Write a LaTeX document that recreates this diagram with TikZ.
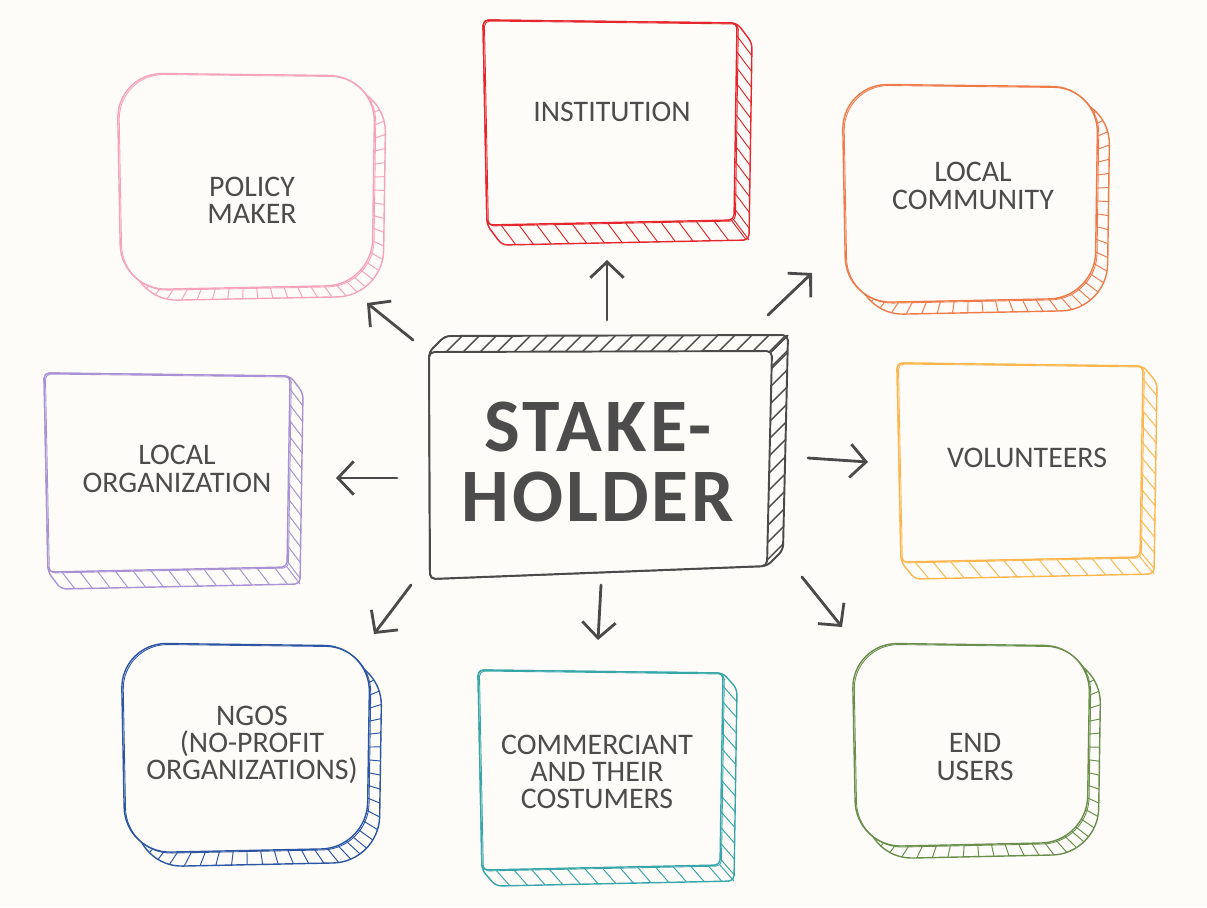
\documentclass[tikz,border=0pt]{standalone}
\usepackage{fontspec}
\setmainfont{Carlito}
\newfontfamily\corefont[LetterSpace=4]{Carlito}
\usepackage{tikz}
\usetikzlibrary{arrows.meta}

\definecolor{paper}{HTML}{FDFCF8}
\definecolor{inkgray}{HTML}{4A4A4A}
\definecolor{textgray}{HTML}{4C4C4C}
\definecolor{pinkline}{HTML}{F5A3BB}
\definecolor{redline}{HTML}{E6262D}
\definecolor{orangeline}{HTML}{EF7A4A}
\definecolor{purpleline}{HTML}{A992D3}
\definecolor{yellowline}{HTML}{FCB64E}
\definecolor{blueline}{HTML}{2C55A3}
\definecolor{tealline}{HTML}{36A6A9}
\definecolor{greenline}{HTML}{6A8F4D}

\tikzstyle{boxtext} = [align=center, text=textgray, inner sep=0pt, font=\fontsize{17}{15.5}\selectfont]
\tikzstyle{coretext} = [align=center, text=textgray, inner sep=0pt, font=\corefont\bfseries\fontsize{43}{40}\selectfont]
\tikzstyle{spoke} = [-{Straight Barb[length=9pt,width=19pt]}, line width=1.6pt, inkgray, line cap=round, line join=round]
\tikzstyle{hatch} = [line width=0.55pt]
\tikzstyle{edge} = [line width=0.8pt, line join=round]

% #1 colour, #2-#5 front face x1,y1,x2,y2, #6/#7 depth, #8 corner radius, #9 r = round, s = square
\newcommand{\sketchbox}[9]{%
  \pgfmathsetmacro\bxc{(#2+#4)/2}
  \pgfmathsetmacro\byc{(#3+#5)/2}
  \ifx r#9
    \begin{scope}
      \clip[rounded corners=#8] (#2+#6,#3+#7) -- (#4+#6,#3+3+#7) -- (#4-3+#6,#5-5+#7) -- (#2+4+#6,#5+#7) -- cycle;
      \pgfmathtruncatemacro\nb{(#4-#2)/14}
      \foreach \i in {0,...,\nb}
        \draw[hatch, #1] (\bxc,\byc) -- ({\bxc+1.3*(#2+\i*14-\bxc)},{\byc+1.3*(#5-\byc)});
      \pgfmathtruncatemacro\nr{(#5-#3)/13}
      \foreach \j in {0,...,\nr}
        \draw[hatch, #1] (\bxc,\byc) -- ({\bxc+1.3*(#4-\bxc)},{\byc+1.3*(#3+\j*13-\byc)});
    \end{scope}
    \draw[edge, #1, rounded corners=#8] (#2+#6,#3+#7) -- (#4+#6,#3+3+#7) -- (#4-3+#6,#5-5+#7) -- (#2+4+#6,#5+#7) -- cycle;
  \else
    \begin{scope}
      \clip (#2,#3) -- (#4,#3+3) -- (#4+#6,#3+3+#7) -- (#4-3+#6,#5-5+#7) -- (#2+4+#6,#5+#7) -- (#2+4,#5) -- cycle;
      \pgfmathtruncatemacro\nb{(#4-#2)/18}
      \foreach \i in {0,...,\nb}
        \draw[hatch, #1] (#2+\i*18,#5) ++(-2*#6,-2*#7) -- ++(4*#6,4*#7);
      \pgfmathtruncatemacro\nr{(#5-#3)/16}
      \foreach \j in {0,...,\nr}
        \draw[hatch, #1] (#4,#3+\j*16) ++(-2*#6,-2*#7) -- ++(4*#6,4*#7);
    \end{scope}
    \draw[edge, #1, rounded corners=#8] (#2,#3) -- (#4,#3+3) -- (#4+#6,#3+3+#7) -- (#4-3+#6,#5-5+#7) -- (#2+4+#6,#5+#7) -- (#2+4,#5) -- cycle;
    \draw[hatch, #1] (#4-3,#5-5) -- ++(#6,#7);
  \fi
  % front face, drawn twice for the pencil look
  \fill[paper, rounded corners=#8] (#2,#3) -- (#4,#3+3) -- (#4-3,#5-5) -- (#2+4,#5) -- cycle;
  \draw[edge, #1, rounded corners=#8] (#2,#3) -- (#4,#3+3) -- (#4-3,#5-5) -- (#2+4,#5) -- cycle;
  \draw[edge, #1, line width=0.5pt, shift={(1.4,1)}, rounded corners=#8] (#2,#3) -- (#4,#3+3) -- (#4-3,#5-5) -- (#2+4,#5) -- cycle;
}

\begin{document}
\begin{tikzpicture}[x=0.02cm, y=-0.02cm]

  \useasboundingbox (0,0) rectangle (1207,907);
  \fill[paper] (0,0) rectangle (1207,907);

  % outer boxes
  \sketchbox{pinkline}{117}{73}{375}{290}{11}{11}{26pt}{r}
  \sketchbox{redline}{483}{20}{737}{225}{15}{20}{3pt}{s}
  \sketchbox{orangeline}{842}{84}{1098}{303}{12}{12}{26pt}{r}
  \sketchbox{purpleline}{44}{373}{290}{572}{13}{17}{3pt}{s}
  \sketchbox{yellowline}{897}{363}{1143}{562}{14}{17}{3pt}{s}
  \sketchbox{blueline}{121}{643}{370}{853}{12}{14}{26pt}{r}
  \sketchbox{tealline}{478}{670}{723}{870}{14}{16}{3pt}{s}
  \sketchbox{greenline}{852}{643}{1090}{847}{11}{12}{26pt}{r}

  % centre block, depth goes up and right
  \begin{scope}
    \clip (429,352) -- (445,336) -- (788,335) -- (783,550) -- (767,566) -- (430,579) -- cycle;
    \foreach \i in {0,...,21}
      \draw[hatch, inkgray, line width=0.8pt] (429+\i*17,352) ++(-32,32) -- ++(64,-64);
    \foreach \j in {0,...,13}
      \draw[hatch, inkgray, line width=0.8pt] (772,351+\j*17) ++(-32,32) -- ++(64,-64);
  \end{scope}
  \draw[edge, inkgray, line width=1.1pt, rounded corners=3pt] (429,352) -- (445,336) -- (788,335) -- (783,550) -- (767,566) -- (430,579) -- cycle;
  \fill[paper, rounded corners=3pt] (429,352) -- (772,351) -- (767,566) -- (430,579) -- cycle;
  \draw[edge, inkgray, line width=1.1pt, rounded corners=3pt] (429,352) -- (772,351) -- (767,566) -- (430,579) -- cycle;
  \draw[edge, inkgray, line width=0.8pt] (772,351) -- (788,335);

  % labels
  \node[boxtext] (policy) at (252,200) {POLICY\\MAKER};
  \node[boxtext] (inst) at (612,112) {INSTITUTION};
  \node[boxtext] (comm) at (973,186) {LOCAL\\COMMUNITY};
  \node[boxtext] (org) at (177,469) {LOCAL\\ORGANIZATION};
  \node[boxtext] (volun) at (1027,458) {VOLUNTEERS};
  \node[boxtext] (ngo) at (252,745) {NGOS\\(NO-PROFIT\\ORGANIZATIONS)};
  \node[boxtext] (merch) at (597,772) {COMMERCIANT\\AND THEIR\\COSTUMERS};
  \node[boxtext] (users) at (975,757) {END\\USERS};
  \node[coretext] (stake) at (598,462) {STAKE-\\HOLDER};

  % arrow ends
  \coordinate (policy-from) at (413,340);  \coordinate (policy-to) at (367,303);
  \coordinate (inst-from) at (607,320);    \coordinate (inst-to) at (607,260);
  \coordinate (comm-from) at (768,315);    \coordinate (comm-to) at (812,273);
  \coordinate (org-from) at (397,478);     \coordinate (org-to) at (336,478);
  \coordinate (volun-from) at (808,458);   \coordinate (volun-to) at (868,462);
  \coordinate (ngo-from) at (411,585);     \coordinate (ngo-to) at (374,634);
  \coordinate (merch-from) at (601,585);   \coordinate (merch-to) at (598,640);
  \coordinate (users-from) at (802,577);   \coordinate (users-to) at (842,627);

  \foreach \t in {policy, inst, comm, org, volun, ngo, merch, users}
    \draw[spoke] (\t-from) -- (\t-to);

\end{tikzpicture}
\end{document}
